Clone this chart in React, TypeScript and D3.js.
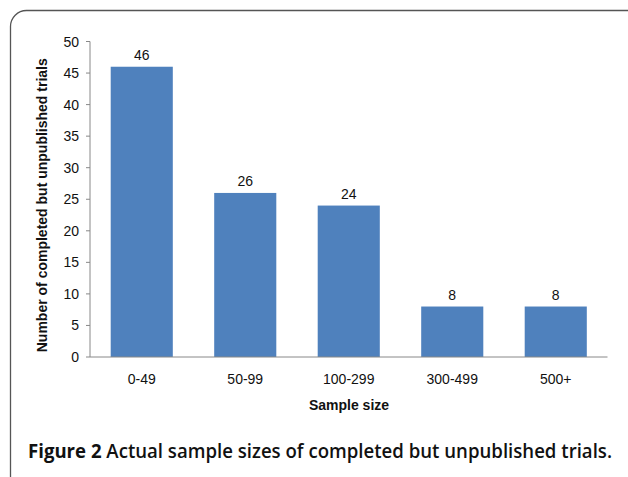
import React from "react";
import * as d3 from "d3";

const categories = ["0-49", "50-99", "100-299", "300-499", "500+"];
const values = [46, 26, 24, 8, 8];
const yTicks = [0, 5, 10, 15, 20, 25, 30, 35, 40, 45, 50];

export default function App() {
  const W = 628, H = 477;
  const x0 = 90, x1 = 607.5, yTop = 41.5, yBot = 357;
  const x = d3.scaleBand<string>().domain(categories).range([x0, x1]).paddingInner(0.4).paddingOuter(0.2);
  const y = d3.scaleLinear().domain([0, 50]).range([yBot, yTop]);
  const font = "Arial, 'Liberation Sans', sans-serif";
  return (
    <svg width={W} height={H} style={{ position: "absolute", left: 0, top: 0 }}>
      <rect x={0} y={0} width={W} height={H} fill="#fff" />
      <rect x={10.5} y={10.5} width={640} height={490} rx={16} fill="none" stroke="#555" strokeWidth={1.3} />
      {/* y axis */}
      <line x1={x0} x2={x0} y1={yTop} y2={yBot} stroke="#888" />
      {yTicks.map((t) => (
        <g key={t}>
          <line x1={x0 - 4} x2={x0} y1={y(t)} y2={y(t)} stroke="#888" />
          <text x={x0 - 11} y={y(t)} dy="0.36em" textAnchor="end" fontFamily={font} fontSize={14} fill="#111">
            {t}
          </text>
        </g>
      ))}
      {/* bars */}
      {categories.map((c, i) => (
        <g key={c}>
          <rect x={x(c)} y={y(values[i])} width={x.bandwidth()} height={yBot - y(values[i])} fill="#4F81BD" />
          <text x={(x(c) as number) + x.bandwidth() / 2} y={y(values[i]) - 7} textAnchor="middle" fontFamily={font} fontSize={14} fill="#111">
            {values[i]}
          </text>
          <text x={(x(c) as number) + x.bandwidth() / 2} y={384} textAnchor="middle" fontFamily={font} fontSize={14} fill="#111">
            {c}
          </text>
        </g>
      ))}
      <line x1={x0} x2={x1} y1={yBot} y2={yBot} stroke="#888" />
      <text x={349} y={410} textAnchor="middle" fontFamily={font} fontSize={14} fontWeight="bold" fill="#111">
        Sample size
      </text>
      <text transform={`translate(47,${(yTop + yBot) / 2 + 6}) rotate(-90)`} textAnchor="middle" fontFamily={font} fontSize={14} fontWeight="bold" fill="#111">
        Number of completed but unpublished trials
      </text>
      <text x={28} y={458} fontFamily="'Open Sans', sans-serif" fontSize={19} fill="#111" textLength={584} lengthAdjust="spacingAndGlyphs">
        <tspan fontWeight="bold">Figure 2</tspan>
        <tspan fontWeight={600}> Actual sample sizes of completed but unpublished trials.</tspan>
      </text>
    </svg>
  );
}
